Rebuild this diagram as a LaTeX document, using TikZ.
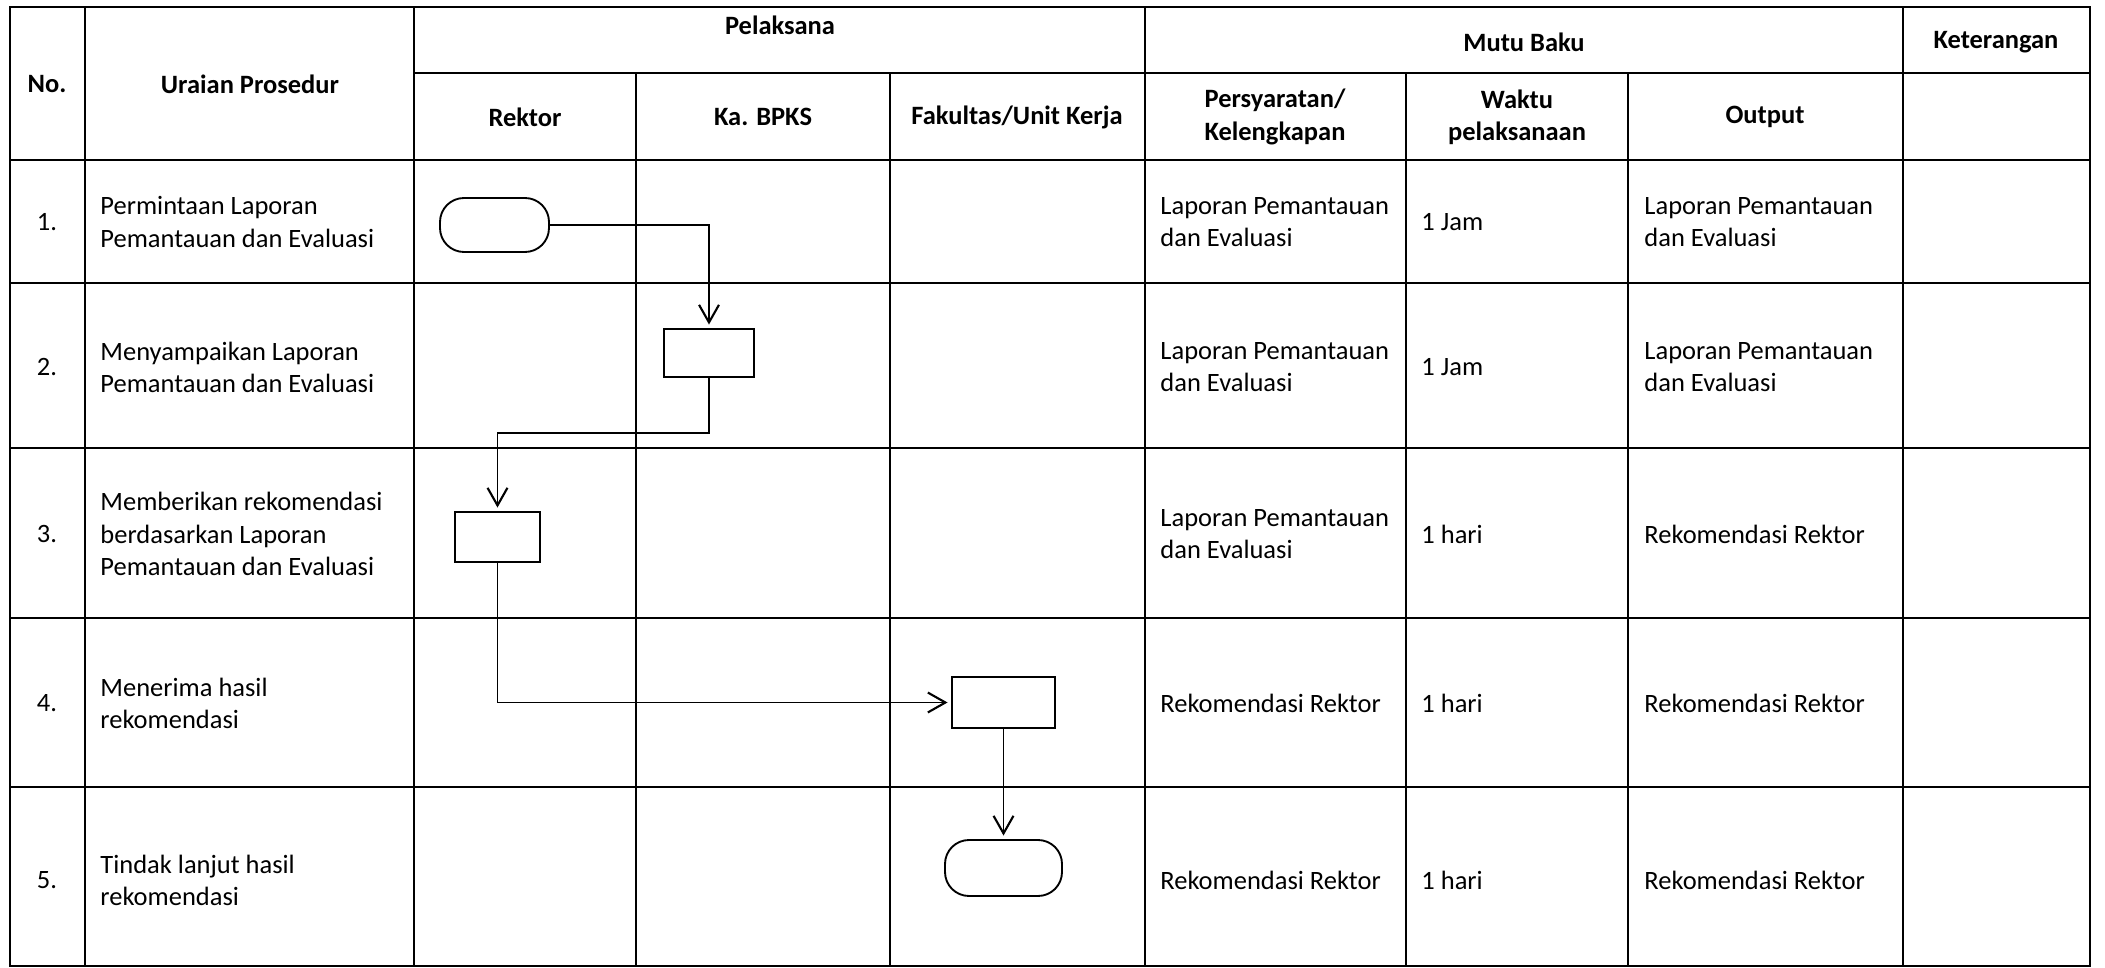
\documentclass[tikz,border=0pt]{standalone}
\usepackage{fontspec}
\setmainfont{Carlito}
\usetikzlibrary{arrows.meta}

\tikzset{
  grid/.style={line width=0.9pt},
  cell/.style={inner sep=0pt, align=left, anchor=west},
  head/.style={inner sep=0pt, align=center, font=\fontsize{11.3}{13.7}\selectfont\bfseries},
  proc/.style={draw, line width=0.8pt, inner sep=0pt},
  term/.style={draw, line width=0.8pt, inner sep=0pt, rounded corners=0.36cm},
  flow/.style={line width=0.8pt, -{Straight Barb[length=7.5pt,width=8.5pt,line width=0.9pt]}, shorten >=1.5pt}
}

\begin{document}
\begin{tikzpicture}[x=0.015cm, y=-0.015cm,
    every node/.append style={font=\fontsize{11.3}{13.7}\selectfont}]
\useasboundingbox (0,0) rectangle (2105,968);

% table frame
\draw[grid] (10,7) rectangle (2090,966);
\draw[grid] (414,73) -- (2090,73);
\foreach \y in {160,283,448,618,787}
  \draw[grid] (10,\y) -- (2090,\y);
\foreach \x in {85,414,1145,1903}
  \draw[grid] (\x,7) -- (\x,966);
\foreach \x in {636,890,1406,1628}
  \draw[grid] (\x,73) -- (\x,966);

% header
\node[head] (hno)   at (47,84)    {No.};
\node[head] (hura)  at (250,84)   {Uraian Prosedur};
\node[head] (hpel)  at (780,25)   {Pelaksana};
\node[head] (hmutu) at (1524,42)  {Mutu Baku};
\node[head] (hket)  at (1996,42)  {Keterangan};
\node[head] (hrek)  at (525,117)  {Rektor};
\node[head] (hbpks) at (763,117)  {Ka. BPKS};
\node[head] (hfak)  at (1017,117) {Fakultas/Unit Kerja};
\node[head] (hsyar) at (1275,117) {Persyaratan/\\Kelengkapan};
\node[head] (hwak)  at (1517,117) {Waktu\\pelaksanaan};
\node[head] (hout)  at (1765,117) {Output};

% row 1
\node[inner sep=0pt] (n1) at (47,222) {1.};
\node[cell] (u1) at (100,222) {Permintaan Laporan\\Pemantauan dan Evaluasi};
\node[cell] (p1) at (1160,222) {Laporan Pemantauan\\dan Evaluasi};
\node[cell] (w1) at (1421,222) {1 Jam};
\node[cell] (o1) at (1644,222) {Laporan Pemantauan\\dan Evaluasi};

% row 2
\node[inner sep=0pt] (n2) at (47,367) {2.};
\node[cell] (u2) at (100,367) {Menyampaikan Laporan\\Pemantauan dan Evaluasi};
\node[cell] (p2) at (1160,367) {Laporan Pemantauan\\dan Evaluasi};
\node[cell] (w2) at (1421,367) {1 Jam};
\node[cell] (o2) at (1644,367) {Laporan Pemantauan\\dan Evaluasi};

% row 3
\node[inner sep=0pt] (n3) at (47,534) {3.};
\node[cell] (u3) at (100,534) {Memberikan rekomendasi\\berdasarkan Laporan\\Pemantauan dan Evaluasi};
\node[cell] (p3) at (1160,534) {Laporan Pemantauan\\dan Evaluasi};
\node[cell] (w3) at (1421,534) {1 hari};
\node[cell] (o3) at (1644,534) {Rekomendasi Rektor};

% row 4
\node[inner sep=0pt] (n4) at (47,703) {4.};
\node[cell] (u4) at (100,703) {Menerima hasil\\rekomendasi};
\node[cell] (p4) at (1160,703) {Rekomendasi Rektor};
\node[cell] (w4) at (1421,703) {1 hari};
\node[cell] (o4) at (1644,703) {Rekomendasi Rektor};

% row 5
\node[inner sep=0pt] (n5) at (47,880) {5.};
\node[cell] (u5) at (100,880) {Tindak lanjut hasil\\rekomendasi};
\node[cell] (p5) at (1160,880) {Rekomendasi Rektor};
\node[cell] (w5) at (1421,880) {1 hari};
\node[cell] (o5) at (1644,880) {Rekomendasi Rektor};

% flow symbols
\node[term, minimum width=1.635cm, minimum height=0.81cm] (start) at (494.5,225) {};
\node[proc, minimum width=1.35cm, minimum height=0.72cm] (lapor) at (709,353) {};
\node[proc, minimum width=1.275cm, minimum height=0.75cm] (rekom) at (497.5,537) {};
\node[proc, minimum width=1.545cm, minimum height=0.765cm] (terima) at (1003.5,702.5) {};
\node[term, minimum width=1.755cm, minimum height=0.84cm] (selesai) at (1003.5,868) {};

\draw[flow] (start.east) -| (lapor.north);
\draw[flow] (lapor.south) -- ++(0,55) -| (rekom.north);
\draw[flow] (rekom.south) |- (terima.west);
\draw[flow] (terima.south) -- (selesai.north);
\end{tikzpicture}
\end{document}
